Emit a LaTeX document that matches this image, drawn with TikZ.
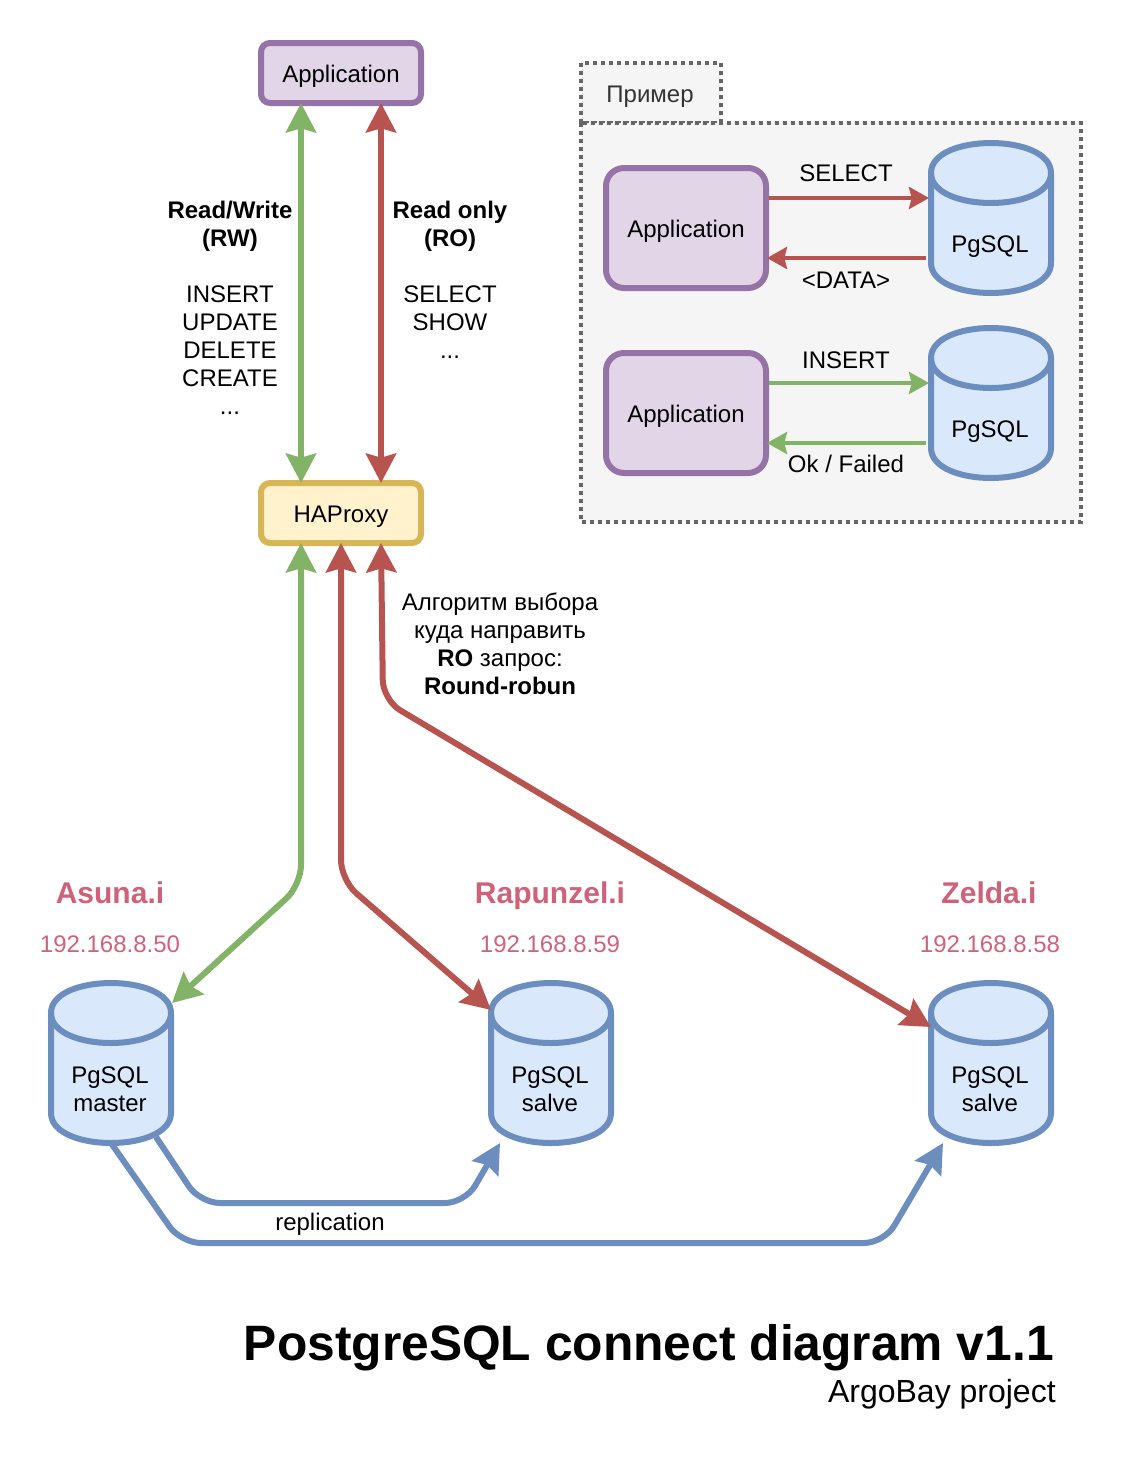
\documentclass[tikz,border=0pt]{standalone}
\usepackage{fontspec}
\setmainfont{Liberation Sans}
\usetikzlibrary{arrows.meta}
\definecolor{purpleline}{HTML}{9673A6}
\definecolor{purplefill}{HTML}{E1D5E7}
\definecolor{blueline}{HTML}{6C8EBF}
\definecolor{bluefill}{HTML}{DAE8FC}
\definecolor{greenline}{HTML}{82B366}
\definecolor{redline}{HTML}{B85450}
\definecolor{yellowline}{HTML}{D6B656}
\definecolor{yellowfill}{HTML}{FFF2CC}
\definecolor{panelline}{HTML}{666666}
\definecolor{panelfill}{HTML}{F5F5F5}
\definecolor{hostcolor}{HTML}{CF6279}
\tikzset{
  txt/.style={inner sep=0pt,align=center,font=\fontsize{18}{21}\selectfont},
  hostname/.style={txt,text=hostcolor,font=\fontsize{22.5}{26}\selectfont\bfseries},
  hostip/.style={txt,text=hostcolor},
  appsmall/.style={draw=purpleline,fill=purplefill,line width=4.5pt,rounded corners=6.75pt,
    outer sep=0pt,inner sep=0pt,minimum width=120pt,minimum height=45pt,
    text height=17.5pt,text depth=4pt,font=\fontsize{18}{21}\selectfont},
  appbig/.style={appsmall,rounded corners=13.5pt,minimum height=90pt},
  proxybox/.style={appsmall,draw=yellowline,fill=yellowfill},
  panel/.style={draw=panelline,fill=panelfill,line width=3pt,dash pattern=on 3pt off 3pt},
  dbline/.style={draw=blueline,line width=4.5pt,line join=round},
  dbbox/.style={inner sep=0pt,outer sep=0pt,minimum width=90pt},
  link/.style={line width=4.5pt,rounded corners=15pt,
    arrows={Stealth[length=22pt,width=22.5pt,inset=3pt]-Stealth[length=22pt,width=22.5pt,inset=3pt]}},
  linkone/.style={line width=4.5pt,rounded corners=15pt,-{Stealth[length=22pt,width=22.5pt,inset=3pt]}},
  replica/.style={linkone,draw=blueline},
  flow/.style={line width=3pt,-{Stealth[length=15pt,width=16.5pt,inset=2pt]}},
}
% name, left, top, height, text offset, text
\newcommand{\pgdb}[6]{
  \begin{scope}[shift={(#2,#3)}]
    \path[dbline,fill=bluefill] (0,30) .. controls (0,-10) and (120,-10) .. (120,30)
      -- (120,#4-30) .. controls (120,#4+10) and (0,#4+10) .. (0,#4-30) -- cycle;
    \path[dbline] (0,30) .. controls (0,70) and (120,70) .. (120,30);
    \node (#1) [dbbox,minimum height=#4*0.75pt] at (60,#4/2) {};
    \node (#1text) [txt] at (59,#5) {#6};
  \end{scope}
}
\begin{document}
\begin{tikzpicture}[x=0.75pt,y=-0.75pt]
  \useasboundingbox (0,0) rectangle (1128,1464);

  % Example panel
  \draw[panel] (581,63) rectangle (721,123);
  \draw[panel] (581,123) rectangle (1081,522);
  \node (exampletitle) [txt,text=black!80] at (650,97) {Пример};

  \node (appread) [appbig] at (686,228) {Application};
  \node (appwrite) [appbig] at (686,413) {Application};
  \pgdb{dbread}{931}{143}{150}{104}{PgSQL}
  \pgdb{dbwrite}{931}{328}{150}{104}{PgSQL}

  \draw[flow,redline] ([shift={(3,-30)}]appread.east) -- ([shift={(-2,-20)}]dbread.west);
  \draw[flow,redline] ([shift={(-5,40)}]dbread.west) -- ([shift={(1,30)}]appread.east);
  \draw[flow,greenline] ([shift={(3,-30)}]appwrite.east) -- ([shift={(-2,-20)}]dbwrite.west);
  \draw[flow,greenline] ([shift={(-5,40)}]dbwrite.west) -- ([shift={(1,30)}]appwrite.east);
  \node (selectlabel) [txt] at (846,173) {SELECT};
  \node (datalabel) [txt] at (846,280) {<DATA>};
  \node (insertlabel) [txt] at (846,360) {INSERT};
  \node (oklabel) [txt] at (846,464) {Ok / Failed};

  % Top of the chain
  \node (app) [appsmall] at (341,73) {Application};
  \node (haproxy) [proxybox] at (341,513) {HAProxy};

  % Databases
  \pgdb{asuna}{51}{983}{160}{106}{PgSQL\\master}
  \pgdb{rapunzel}{491}{983}{160}{106}{PgSQL\\salve}
  \pgdb{zelda}{931}{983}{160}{106}{PgSQL\\salve}

  \node (asunaname) [hostname] at (110,893) {Asuna.i};
  \node (rapunzelname) [hostname] at (550,896) {Rapunzel.i};
  \node (zeldaname) [hostname] at (989,893) {Zelda.i};
  \node (asunaip) [hostip] at (110,944) {192.168.8.50};
  \node (rapunzelip) [hostip] at (550,944) {192.168.8.59};
  \node (zeldaip) [hostip] at (990,944) {192.168.8.58};

  \draw[link,greenline] ([shift={(-40,0)}]app.south) -- ([shift={(-40,0)}]haproxy.north);
  \draw[link,redline] ([shift={(40,0)}]app.south) -- ([shift={(40,0)}]haproxy.north);
  \node (rwlabel) [txt] at (230,308) {\textbf{Read/Write}\\\textbf{(RW)}\\ \\INSERT\\UPDATE\\DELETE\\CREATE\\...};
  \node (rolabel) [txt] at (450,280) {\textbf{Read only}\\\textbf{(RO)}\\ \\SELECT\\SHOW\\...};

  % From HAProxy to the databases
  \draw[link,greenline] ([shift={(-40,0)}]haproxy.south) -- ++(0,342) -- ([shift={(1,-60)}]asuna.east);
  \draw[link,redline] (haproxy.south) -- ++(0,337) -- ([shift={(0,-53)}]rapunzel.west);
  \draw[link,redline] ([shift={(40,0)}]haproxy.south) -- (383,700) -- ([shift={(0,-36)}]zelda.west);
  \node (rrlabel) [txt] at (500,644) {Алгоритм выбора\\куда направить\\\textbf{RO} запрос:\\\textbf{Round-robun}};

  % Replication
  \draw[replica] ([shift={(45,-6)}]asuna.south) -- (200,1203) -- (465,1203) -- ([shift={(-51,0)}]rapunzel.south);
  \draw[replica] (asuna.south) -- (181,1243) -- (884,1243) -- ([shift={(-48,0)}]zelda.south);
  \node (replicationlabel) [txt] at (330,1224) {replication};

  % Title
  \node (title) [inner sep=0pt,anchor=base east,font=\fontsize{37.3}{42}\selectfont\bfseries] at (1054,1360) {PostgreSQL connect diagram v1.1};
  \node (subtitle) [inner sep=0pt,anchor=east,font=\fontsize{24}{28}\selectfont] at (1056,1394) {ArgoBay project};
\end{tikzpicture}
\end{document}
